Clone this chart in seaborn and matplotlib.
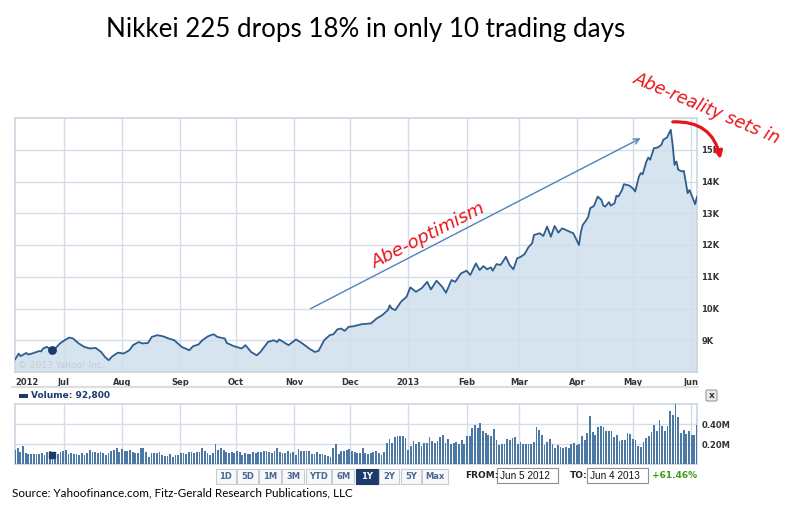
import numpy as np
import pandas as pd
import matplotlib
matplotlib.use("Agg")
import matplotlib.pyplot as plt
import matplotlib.dates as mdates
from matplotlib.patches import Rectangle, FancyArrowPatch, FancyBboxPatch
from matplotlib.lines import Line2D
import seaborn as sns

# ---------------- data ----------------
TITLE = "Nikkei 225 drops 18% in only 10 trading days"
SOURCE = "Source: Yahoofinance.com, Fitz-Gerald Research Publications, LLC"
NOTE_UP = "Abe-optimism"
NOTE_DOWN = "Abe-reality sets in"
WATERMARK = "\u00a9 2013 Yahoo! Inc."

close_dates = [
    "2012-06-05", "2012-06-07", "2012-06-08", "2012-06-11", "2012-06-12", "2012-06-14",
    "2012-06-18", "2012-06-19", "2012-06-20", "2012-06-22", "2012-06-25", "2012-06-26",
    "2012-06-29",
    "2012-07-02", "2012-07-04", "2012-07-06", "2012-07-09", "2012-07-12", "2012-07-15",
    "2012-07-18", "2012-07-21", "2012-07-23", "2012-07-25", "2012-07-27", "2012-07-30",
    "2012-08-02", "2012-08-05", "2012-08-07", "2012-08-10", "2012-08-12", "2012-08-15",
    "2012-08-17", "2012-08-20", "2012-08-23", "2012-08-26", "2012-08-29",
    "2012-09-02", "2012-09-06", "2012-09-08", "2012-09-11", "2012-09-13", "2012-09-16",
    "2012-09-19", "2012-09-21", "2012-09-25", "2012-09-26", "2012-09-30",
    "2012-10-04", "2012-10-06", "2012-10-09", "2012-10-12", "2012-10-14", "2012-10-18",
    "2012-10-21", "2012-10-23", "2012-10-24", "2012-10-27", "2012-10-29",
    "2012-11-02", "2012-11-05", "2012-11-09", "2012-11-12", "2012-11-14", "2012-11-17",
    "2012-11-20", "2012-11-22", "2012-11-24", "2012-11-26", "2012-11-28", "2012-11-30",
    "2012-12-03", "2012-12-07", "2012-12-12", "2012-12-15", "2012-12-18", "2012-12-21",
    "2012-12-22", "2012-12-23", "2012-12-25", "2012-12-28", "2012-12-31",
    "2013-01-02", "2013-01-05", "2013-01-08", "2013-01-11", "2013-01-13", "2013-01-16",
    "2013-01-19", "2013-01-21", "2013-01-24", "2013-01-26", "2013-01-29",
    "2013-02-01", "2013-02-03", "2013-02-06", "2013-02-08", "2013-02-10", "2013-02-12",
    "2013-02-14", "2013-02-15", "2013-02-17", "2013-02-19", "2013-02-20", "2013-02-22",
    "2013-02-24", "2013-02-26", "2013-02-28",
    "2013-03-02", "2013-03-04", "2013-03-06", "2013-03-08", "2013-03-09", "2013-03-12",
    "2013-03-14", "2013-03-16", "2013-03-18", "2013-03-20", "2013-03-22", "2013-03-24",
    "2013-03-26", "2013-03-28", "2013-03-30",
    "2013-04-02", "2013-04-03", "2013-04-04", "2013-04-06", "2013-04-07", "2013-04-08",
    "2013-04-10", "2013-04-12", "2013-04-14", "2013-04-15", "2013-04-16", "2013-04-18",
    "2013-04-19", "2013-04-21", "2013-04-22", "2013-04-23", "2013-04-25", "2013-04-26",
    "2013-04-29",
    "2013-05-01", "2013-05-02", "2013-05-04", "2013-05-05", "2013-05-06", "2013-05-08",
    "2013-05-09", "2013-05-10", "2013-05-12", "2013-05-14", "2013-05-16", "2013-05-17",
    "2013-05-19", "2013-05-21", "2013-05-22", "2013-05-23", "2013-05-24", "2013-05-25",
    "2013-05-27", "2013-05-28", "2013-05-30", "2013-05-31",
    "2013-06-03", "2013-06-04",
]
close_values = [
    8390, 8580, 8500, 8600, 8550, 8580, 8660, 8650, 8740, 8790, 8685, 8710, 8900,
    9020, 9085, 9055, 8900, 8790, 8740, 8760, 8630, 8475, 8370, 8495, 8610,
    8580, 8685, 8845, 8945, 8900, 8915, 9105, 9160, 9125, 9055, 9000,
    8790, 8685, 8810, 8870, 9000, 9125, 9190, 9105, 9055, 8915, 8810,
    8740, 8845, 8630, 8525, 8630, 8945, 9000, 8945, 9025, 8915, 8845,
    9025, 8915, 8740, 8630, 8665, 9000, 9160, 9190, 9340, 9370, 9295, 9420,
    9445, 9505, 9530, 9685, 9790, 9950, 10100, 10000, 9950, 10210, 10370,
    10665, 10525, 10635, 10840, 10600, 10875, 10685, 10495, 10895, 10840, 11105,
    11190, 11055, 11420, 11210, 11335, 11235, 11295, 11190, 11400, 11370, 11440,
    11630, 11370, 11235, 11580,
    11630, 11715, 11925, 12055, 12315, 12370, 12285, 12580, 12260, 12600, 12390,
    12525, 12475, 12420, 12370,
    12000, 12400, 12630, 12790, 12895, 13160, 13230, 13525, 13420, 13240, 13210,
    13350, 13240, 13315, 13555, 13525, 13735, 13915, 13870,
    13770, 13685, 14155, 14265, 14230, 14630, 14755, 14685, 15050, 15070, 15155,
    15315, 15385, 15630, 15155, 14525, 14630, 14370, 14315, 14335, 13630, 13735,
    13285, 13525,
]

# daily volume, thousands of shares (one bar per trading day, left to right)
volume_k = [
    143, 167, 127, 183, 110, 103, 103, 103, 103, 103,
    110, 93, 127, 133, 92.8, 117, 100, 127, 133, 143,
    103, 117, 103, 103, 93, 110, 93, 110, 143, 127,
    127, 117, 120, 110, 93, 110, 133, 143, 160, 127,
    150, 137, 137, 143, 127, 110, 117, 167, 160, 127,
    77, 110, 117, 110, 127, 93, 87, 87, 100, 77,
    93, 93, 117, 110, 100, 127, 120, 117, 127, 127,
    160, 133, 110, 93, 110, 200, 143, 160, 143, 127,
    110, 127, 117, 133, 127, 93, 110,
    100, 103, 120, 110, 120, 120, 133, 137, 120, 110,
    133, 167, 127, 117, 110, 133, 117, 127, 93, 150,
    133, 137, 133, 137, 103, 103, 127, 103, 103, 93,
    87, 77, 160, 200, 103, 133, 133, 143, 150, 133,
    120, 110, 110, 160, 110, 103, 117, 120, 133, 110,
    93, 127, 210, 253, 210, 267, 283, 277, 277, 260,
    143, 183, 233, 203, 220, 187, 210, 210, 270, 233,
    210, 227, 267, 290, 210, 253, 203, 210, 220, 203,
    237, 203, 277, 277, 360, 393, 360,
    410, 327, 310, 287, 277, 353, 243, 193, 200, 200,
    250, 243, 260, 270, 200, 220, 200, 203, 203, 203,
    220, 370, 343, 293, 193, 220, 253, 200, 167, 193,
    170, 167, 177, 160, 200, 210, 193, 200, 277, 243,
    310, 483, 317, 293, 367, 377, 367, 327, 327, 327,
    270, 293, 233, 243, 243, 310, 303, 250, 243, 187,
    177, 217, 260, 277, 317, 393, 333, 443, 377, 333,
    377, 527, 487, 600, 470, 310, 343, 300, 327, 287,
    293, 387,
]

START_DATE = "2012-06-05"
END_DATE = "2013-06-04"
HOVER_DATE = "2012-06-25"
HOVER_INDEX = 14
VOLUME_LABEL = "Volume: 92,800"

Y_TICKS = [9000, 10000, 11000, 12000, 13000, 14000, 15000]
Y_TICK_LABELS = ["9K", "10K", "11K", "12K", "13K", "14K", "15K"]
MONTH_TICKS = ["2012-07-01", "2012-08-01", "2012-09-01", "2012-10-01", "2012-11-01",
               "2012-12-01", "2013-01-01", "2013-02-01", "2013-03-01", "2013-04-01",
               "2013-05-01", "2013-06-01"]
MONTH_LABELS = ["Jul", "Aug", "Sep", "Oct", "Nov", "Dec", "2013", "Feb", "Mar",
                "Apr", "May", "Jun"]
FIRST_LABEL = "2012"
VOL_TICKS = [200000, 400000]
VOL_TICK_LABELS = ["0.20M", "0.40M"]
RANGE_BUTTONS = ["1D", "5D", "1M", "3M", "YTD", "6M", "1Y", "2Y", "5Y", "Max"]
ACTIVE_BUTTON = "1Y"
FROM_TEXT, TO_TEXT = "Jun 5 2012", "Jun 4 2013"
CHANGE_TEXT = "+61.46%"

# ---------------- style ----------------
sns.set_theme(style="white")
plt.rcParams["font.family"] = ["DejaVu Sans"]

W, H = 800, 514
def fx(p): return p / W
def fy(p): return 1 - p / H

LINE_C = "#2f5d8e"
FILL_C = "#d6e4f0"
GRID_C = "#d3dee9"
SPINE_C = "#cbd6e1"
LABEL_C = "#333333"
BAR_C = "#4c78a6"
NAVY = "#1d3b6a"

fig = plt.figure(figsize=(W / 100, H / 100), dpi=100)
fig.patch.set_facecolor("white")

# main price axes
ax = fig.add_axes([fx(15), fy(372), fx(697) - fx(15), fy(118) - fy(372)])
dates = pd.to_datetime(close_dates)
df = pd.DataFrame({"date": dates, "close": close_values})
ax.fill_between(df["date"], df["close"], 8000, color=FILL_C, lw=0, zorder=1)
sns.lineplot(data=df, x="date", y="close", ax=ax, color=LINE_C, linewidth=1.3, zorder=3)
hov = df[df["date"] == pd.Timestamp(HOVER_DATE)]
ax.scatter(hov["date"], hov["close"], s=28, color=NAVY, zorder=4)

ax.set_xlim(pd.Timestamp(START_DATE), pd.Timestamp(END_DATE))
ax.set_ylim(8000, 16000)
ax.set_xlabel("")
ax.set_ylabel("")
ax.set_yticks(Y_TICKS, labels=Y_TICK_LABELS)
ax.yaxis.tick_right()
xt = [pd.Timestamp(START_DATE)] + [pd.Timestamp(d) for d in MONTH_TICKS]
ax.set_xticks(xt, labels=[FIRST_LABEL] + MONTH_LABELS)
ax.get_xticklabels()[0].set_ha("left")
ax.tick_params(axis="both", length=0, labelsize=6, labelcolor=LABEL_C)
ax.tick_params(axis="x", pad=4)
ax.tick_params(axis="y", pad=3)
for lab in ax.get_xticklabels() + ax.get_yticklabels():
    lab.set_fontweight("bold")
for t in Y_TICKS:
    ax.axhline(t, color=GRID_C, lw=1, zorder=2)
for t in MONTH_TICKS:
    ax.axvline(pd.Timestamp(t), color=GRID_C, lw=1, zorder=2)
for s in ax.spines.values():
    s.set_color(SPINE_C)
    s.set_linewidth(1.2)
ax.text(fx(19) - fx(15), 0.027, WATERMARK, transform=ax.transAxes, fontsize=6.5,
        color="#c3ccd6", ha="left", va="center", zorder=2)

# separator below month labels
fig.add_artist(Line2D([fx(12), fx(698)], [fy(387), fy(387)], color="#dddddd", lw=1.6))

# volume legend
fig.add_artist(Rectangle((fx(19), fy(398)), fx(9), 4 / H, color=NAVY, lw=0))
fig.text(fx(31), fy(395.5), VOLUME_LABEL, fontsize=6.5, fontweight="bold", color=NAVY,
         ha="left", va="center")

# close button
fig.add_artist(FancyBboxPatch((fx(706), fy(401)), fx(11), 11 / H,
                              boxstyle="round,pad=0,rounding_size=0.002",
                              facecolor="#ececec", edgecolor="#9a9a9a", lw=0.8))
fig.text(fx(711.5), fy(395.5), "x", fontsize=6.5, fontweight="bold", color="#333333",
         ha="center", va="center")

# volume axes
vax = fig.add_axes([fx(15), fy(464.3), fx(697) - fx(15), fy(404) - fy(464.3)])
vol_dates = pd.date_range(START_DATE, END_DATE, periods=len(volume_k))
vol = np.array(volume_k) * 1000.0
vax.bar(mdates.date2num(vol_dates), vol, width=0.95, color=BAR_C, lw=0, zorder=3)
vax.scatter([mdates.date2num(vol_dates[HOVER_INDEX])], [vol[HOVER_INDEX]], marker="s",
            s=18, color=NAVY, zorder=4)
vax.set_xlim(mdates.date2num(pd.Timestamp(START_DATE)), mdates.date2num(pd.Timestamp(END_DATE)))
vax.set_ylim(0, 600000)
vax.set_yticks(VOL_TICKS, labels=VOL_TICK_LABELS)
vax.yaxis.tick_right()
vax.set_xticks([])
vax.tick_params(axis="y", length=0, labelsize=6, labelcolor=LABEL_C, pad=3)
for lab in vax.get_yticklabels():
    lab.set_fontweight("bold")
for t in VOL_TICKS:
    vax.axhline(t, color=GRID_C, lw=1, zorder=2)
for t in MONTH_TICKS:
    vax.axvline(mdates.date2num(pd.Timestamp(t)), color=GRID_C, lw=1, zorder=2)
for s in vax.spines.values():
    s.set_color(SPINE_C)
    s.set_linewidth(1.2)

# range buttons
BUTTON_EDGES = [215, 236.7, 258.3, 281.7, 305, 331.7, 355, 378.3, 400, 421.7, 448.3]
for i, lab in enumerate(RANGE_BUTTONS):
    x0, x1 = BUTTON_EDGES[i] + 0.6, BUTTON_EDGES[i + 1] - 0.6
    active = lab == ACTIVE_BUTTON
    fig.add_artist(Rectangle((fx(x0), fy(483.7)), fx(x1 - x0), 15 / H,
                             facecolor=NAVY if active else "#f7f8fa",
                             edgecolor=NAVY if active else "#c5ccd4", lw=0.8))
    fig.text(fx((x0 + x1) / 2), fy(476.3), lab, fontsize=6, fontweight="bold",
             color="white" if active else "#4a6896", ha="center", va="center")

fig.text(fx(465), fy(476), "FROM:", fontsize=6.5, fontweight="bold", color="#222222",
         ha="left", va="center")
fig.text(fx(569.5), fy(476), "TO:", fontsize=6.5, fontweight="bold", color="#222222",
         ha="left", va="center")
for (a, b, txt) in [(497.3, 558.3, FROM_TEXT), (587.3, 648.3, TO_TEXT)]:
    fig.add_artist(Rectangle((fx(a), fy(483.3)), fx(b - a), 15 / H, facecolor="white",
                             edgecolor="#8f8f8f", lw=0.8))
    fig.text(fx(a + 3), fy(476), txt, fontsize=7.2, family="Liberation Sans",
             color="#111111", ha="left", va="center")
fig.text(fx(697), fy(476), CHANGE_TEXT, fontsize=6.5, fontweight="bold", color="#3a9a1a",
         ha="right", va="center")

# title and source
fig.text(fx(366), fy(30), TITLE, fontsize=18.7, family="Lato", color="black",
         ha="center", va="center")
fig.text(fx(12), fy(493), SOURCE, fontsize=8.4, family="Lato", color="black",
         ha="left", va="center")

# annotations
fig.add_artist(FancyArrowPatch((fx(308), fy(310)), (fx(643), fy(137)),
                               transform=fig.transFigure, arrowstyle="->",
                               mutation_scale=10, color="#4f81bd", lw=1.0))
fig.text(fx(429), fy(236), NOTE_UP, fontsize=13, style="italic", color="#e8141c",
         rotation=27, rotation_mode="anchor", ha="center", va="center")
fig.text(fx(707), fy(109), NOTE_DOWN, fontsize=12.5, style="italic", color="#e8141c",
         rotation=-23, rotation_mode="anchor", ha="center", va="center")
fig.add_artist(FancyArrowPatch((fx(670), fy(122)), (fx(721), fy(162)),
                               transform=fig.transFigure,
                               connectionstyle="arc3,rad=-0.45", arrowstyle="-|>",
                               mutation_scale=11, color="#e8141c", lw=2.3))

fig.savefig("out.png", dpi=100)
